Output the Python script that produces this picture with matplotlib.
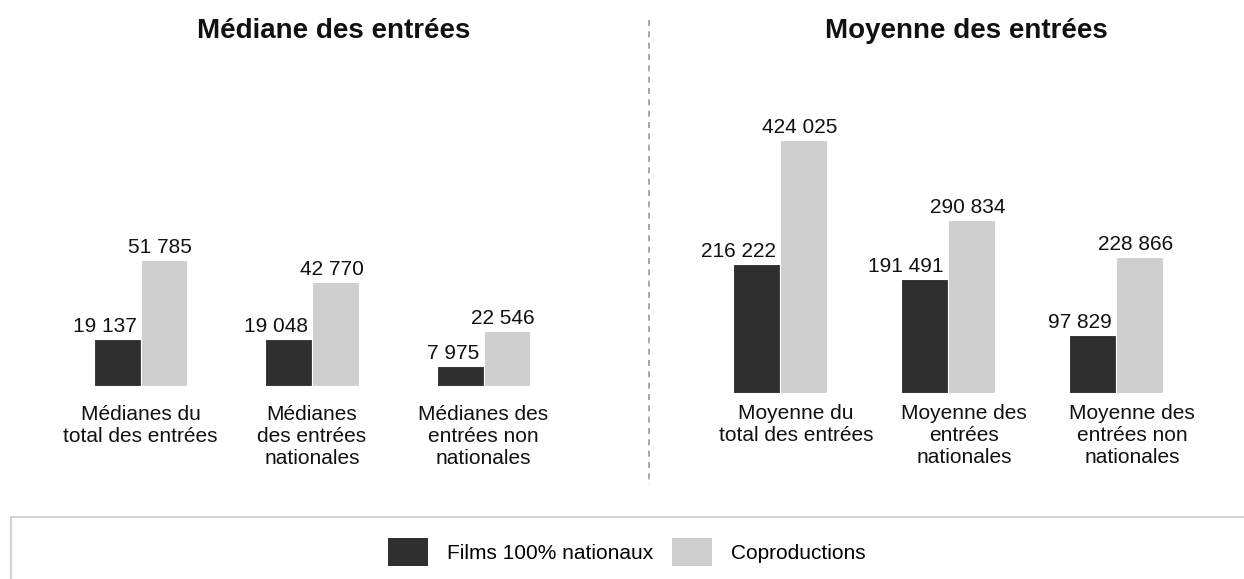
import matplotlib
matplotlib.use("Agg")
import matplotlib.pyplot as plt
from matplotlib.patches import Patch
from matplotlib.lines import Line2D
from matplotlib.transforms import ScaledTranslation
import numpy as np

# ---------------- data ----------------
titles = ["Médiane des entrées", "Moyenne des entrées"]
median_categories = ["Médianes du\ntotal des entrées",
                     "Médianes\ndes entrées\nnationales",
                     "Médianes des\nentrées non\nnationales"]
mean_categories = ["Moyenne du\ntotal des entrées",
                   "Moyenne des\nentrées\nnationales",
                   "Moyenne des\nentrées non\nnationales"]
median_national = [19137, 19048, 7975]
median_coprod = [51785, 42770, 22546]
mean_national = [216222, 191491, 97829]
mean_coprod = [424025, 290834, 228866]
series_names = ["Films 100% nationaux", "Coproductions"]

# ---------------- style ----------------
DARK = "#2f2f2f"
LIGHT = "#cfcfcf"
FONT = "Liberation Sans"
plt.rcParams["font.family"] = [FONT, "DejaVu Sans"]

W, H = 1244, 579
DPI = 100
fig = plt.figure(figsize=(W / DPI, H / DPI), dpi=DPI)
px = 72.0 / DPI  # points per pixel


def rect(l, t, r, b):
    return [l / W, 1 - b / H, (r - l) / W, (b - t) / H]


def fmt(v):
    return f"{v:,}".replace(",", " ")


def panel(ax, cats, nat, cop, width, ymax, pad_pt, label_shift_px):
    x = np.arange(len(cats))
    ax.bar(x - width / 2, nat, width, color=DARK, edgecolor="white", linewidth=0.8)
    ax.bar(x + width / 2, cop, width, color=LIGHT, edgecolor="white", linewidth=0.8)
    for xi, v in zip(x, nat):
        ax.annotate(fmt(v), (xi, v), xytext=(-4 * px, 7 * px), textcoords="offset points",
                    ha="right", va="baseline", fontsize=15, color="#111111")
    for xi, v in zip(x, cop):
        ax.annotate(fmt(v), (xi + width / 2, v), xytext=(-4 * px, 7 * px),
                    textcoords="offset points", ha="center", va="baseline",
                    fontsize=15, color="#111111")
    ax.set_xlim(-0.5, len(cats) - 0.5)
    ax.set_ylim(0, ymax)
    ax.set_xticks(x)
    ax.set_xticklabels(cats, fontsize=15, color="#111111", linespacing=1.2)
    ax.tick_params(axis="x", length=0, pad=pad_pt)
    ax.set_yticks([])
    for s in ax.spines.values():
        s.set_visible(False)
    if label_shift_px:
        off = ScaledTranslation(label_shift_px / DPI, 0, fig.dpi_scale_trans)
        for lab in ax.get_xticklabels():
            lab.set_transform(lab.get_transform() + off)


ax1 = fig.add_axes(rect(54.75, 60, 569.25, 385.5))
panel(ax1, median_categories, median_national, median_coprod, 0.274,
      325.5 / 0.002421, 14, 0)

ax2 = fig.add_axes(rect(696, 60, 1200, 393))
panel(ax2, mean_categories, mean_national, mean_coprod, 0.28,
      333 / 5.962e-4, 8, 16)

# titles
fig.text(334 / W, 1 - 31 / H, titles[0], ha="center", va="center",
         fontsize=20, fontweight="bold", color="#111111")
fig.text(966 / W, 1 - 31 / H, titles[1], ha="center", va="center",
         fontsize=20, fontweight="bold", color="#111111")

# dashed divider
fig.add_artist(Line2D([649 / W, 649 / W], [1 - 20 / H, 1 - 485 / H],
                      transform=fig.transFigure, color="#9a9a9a",
                      linewidth=1.2, linestyle=(0, (3.6, 3.2))))

# legend frame
fig.add_artist(Line2D([11 / W, 1.0], [1 - 517 / H, 1 - 517 / H],
                      transform=fig.transFigure, color="#cfcfcf", linewidth=1.3))
fig.add_artist(Line2D([11 / W, 11 / W], [1 - 517 / H, 0.0],
                      transform=fig.transFigure, color="#cfcfcf", linewidth=1.3))

handles = [Patch(facecolor=DARK, edgecolor="none"), Patch(facecolor=LIGHT, edgecolor="none")]
fs = 15
em = fs / px
fig.legend(handles, series_names, loc="center", ncol=2,
           bbox_to_anchor=(626.5 / W, 1 - 552 / H), frameon=False,
           fontsize=fs, handlelength=40 / em, handleheight=36 / em,
           handletextpad=19 / em, columnspacing=19 / em, borderpad=0.2)

fig.savefig("out.png", dpi=DPI, facecolor="white")
